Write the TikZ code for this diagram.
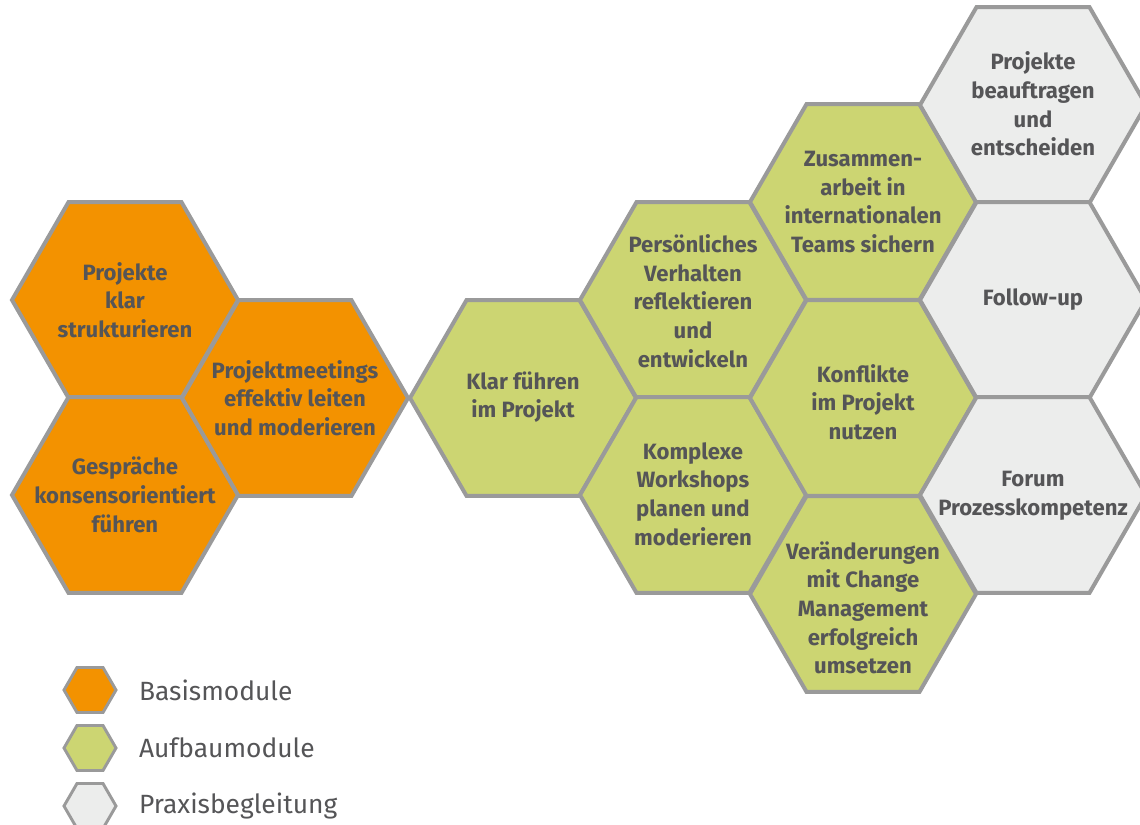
\documentclass[tikz,border=0pt]{standalone}
\usepackage{fontspec}
\setmainfont{Fira Sans}
\definecolor{basisorange}{HTML}{F39200}
\definecolor{aufbaugreen}{HTML}{CCD572}
\definecolor{praxisgray}{HTML}{ECEDEC}
\definecolor{hexborder}{HTML}{9A9A9A}
\definecolor{hextext}{HTML}{555557}

\newcommand{\printHex}[4]{\filldraw [fill=#3, draw=hexborder, shift={(#1,#2)}] (0:#4) -- (60:#4) -- (120:#4) -- (180:#4) -- (240:#4) -- (300:#4) -- cycle;}

\tikzset{
  hexlabel/.style={text=hextext, align=center, inner sep=0pt,
    font=\bfseries\fontsize{16.6}{21.5}\selectfont},
  legendlabel/.style={text=hextext, anchor=west, inner sep=0pt,
    font=\fontsize{19.8}{22}\selectfont}
}

\begin{document}
\begin{tikzpicture}[x=0.75pt,y=-0.75pt,line width=3pt]
  \useasboundingbox (0,0) rectangle (1140,825);

  % module hexagons
  \foreach \x/\y/\c in {125/300/basisorange, 125/495/basisorange, 295/398/basisorange,
      523/398/aufbaugreen, 693/300/aufbaugreen, 693/495/aufbaugreen,
      863/202/aufbaugreen, 863/398/aufbaugreen, 863/594/aufbaugreen,
      1033/105/praxisgray, 1033/300/praxisgray, 1033/495/praxisgray} {
      \printHex{\x}{\y}{\c}{113}
    }

  \node[hexlabel] (strukturieren) at (125,300) {Projekte\\klar\\strukturieren};
  \node[hexlabel] (gespraeche) at (125,495) {Gespräche\\konsensorientiert\\führen};
  \node[hexlabel] (meetings) at (295,398) {Projektmeetings\\effektiv leiten\\und moderieren};
  \node[hexlabel] (fuehren) at (523,397) {Klar führen\\im Projekt};
  \node[hexlabel] (verhalten) at (693,301) {Persönliches\\Verhalten\\reflektieren\\und\\entwickeln};
  \node[hexlabel] (workshops) at (693,494) {Komplexe\\Workshops\\planen und\\moderieren};
  \node[hexlabel] (teams) at (863,202) {Zusammen-\\arbeit in\\internationalen\\Teams sichern};
  \node[hexlabel] (konflikte) at (863,402) {Konflikte\\im Projekt\\nutzen};
  \node[hexlabel] (change) at (863,608) {Veränderungen\\mit Change\\Management\\erfolgreich\\umsetzen};
  \node[hexlabel] (beauftragen) at (1033,104) {Projekte\\beauftragen\\und\\entscheiden};
  \node[hexlabel] (followup) at (1033,300) {Follow-up};
  \node[hexlabel] (forum) at (1033,496) {Forum\\Prozesskompetenz};

  % legend
  \begin{scope}[line width=2.2pt]
    \printHex{90}{690}{basisorange}{26}
    \printHex{90}{748}{aufbaugreen}{26}
    \printHex{90}{806}{praxisgray}{26}
  \end{scope}
  \node[legendlabel] (basis) at (137,690) {Basismodule};
  \node[legendlabel] (aufbau) at (137,748) {Aufbaumodule};
  \node[legendlabel] (praxis) at (137,806) {Praxisbegleitung};
\end{tikzpicture}
\end{document}
